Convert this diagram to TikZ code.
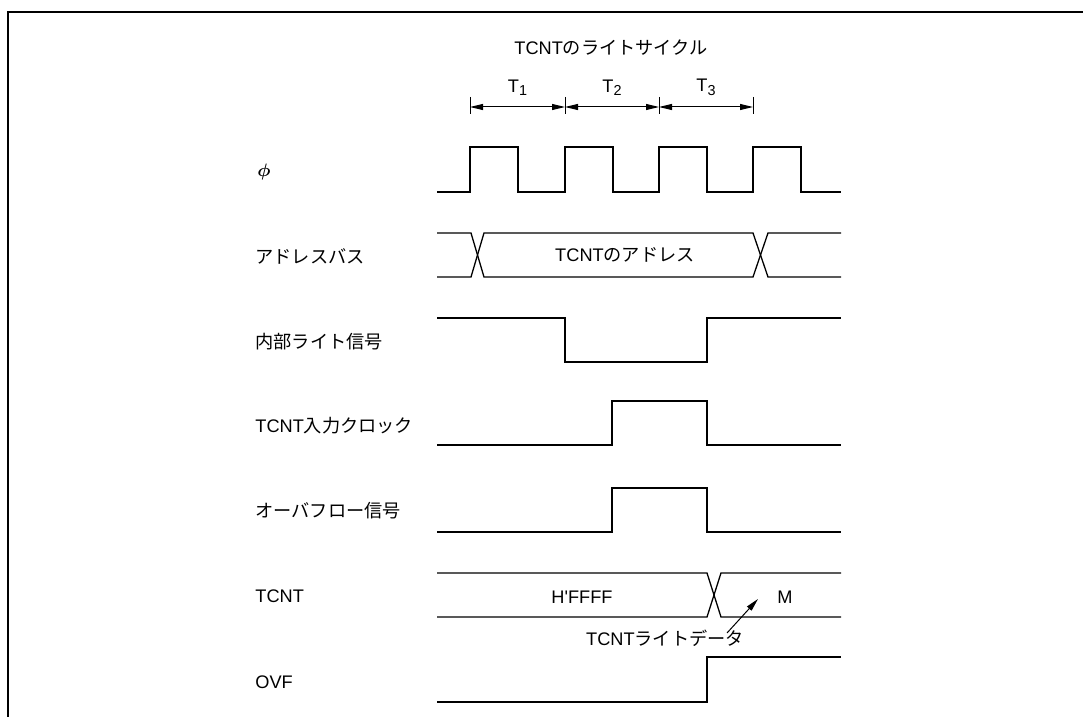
\documentclass[tikz,border=0pt]{standalone}
\usepackage{amsmath}
\usepackage{fontspec}
\setmainfont{Liberation Sans}
\newfontfamily\jp{Noto Sans CJK JP}
\usepackage{tikz}
\usetikzlibrary{arrows.meta, positioning}

\begin{document}
\begin{tikzpicture}[
				x=0.5pt, y=-0.5pt,
				every node/.style={font=\fontsize{9.1}{10}\selectfont, inner sep=0pt},
				siglabel/.style={anchor=west},
				wave/.style={line width=0.65pt, line join=miter},
				dimline/.style={line width=0.5pt,
				      {Triangle[length=6.5pt,width=3pt]}-{Triangle[length=6.5pt,width=3pt]}},
				frameline/.style={line width=1pt}
			]
				\useasboundingbox (0,0) rectangle (1083,717);
				\draw[frameline] (8,717) -- (8,12) -- (1083,12);
				% title and cycle markers
				\node (title) at (611,48) {TCNT{\jp のライトサイクル}};
				\coordinate (t0) at (470,107);
				\coordinate (t1) at (565,107);
				\coordinate (t2) at (659,107);
				\coordinate (t3) at (753,107);
				\foreach \x in {470,565,659,753}
				     \draw[line width=0.5pt] (\x,97) -- (\x,114);
				\draw[dimline] (t0) -- node[above=5.5pt] {T\raisebox{-0.35ex}{\fontsize{7.2}{8}\selectfont 1}} (t1);
				\draw[dimline] (t1) -- node[above=5.5pt] {T\raisebox{-0.35ex}{\fontsize{7.2}{8}\selectfont 2}} (t2);
				\draw[dimline] (t2) -- node[above=5.5pt] {T\raisebox{-0.35ex}{\fontsize{7.2}{8}\selectfont 3}} (t3);
				% signal names
				\node[siglabel] (lphi) at (257,172) {$\boldsymbol{\phi}$};
				\node[siglabel] (laddr) at (255,256) {\jp アドレスバス};
				\node[siglabel] (lwr) at (255,342) {\jp 内部ライト信号};
				\node[siglabel] (lclk) at (255,426) {TCNT{\jp 入力クロック}};
				\node[siglabel] (lovs) at (255,511) {\jp オーバフロー信号};
				\node[siglabel] (ltcnt) at (255,596) {TCNT};
				\node[siglabel] (lovf) at (255,682) {OVF};
				% waveforms
				\draw[wave] (437,192) foreach \r in {470,565,659,753}
				     { -- (\r,192) -- (\r,147) -- (\r+48,147) -- (\r+48,192) } -- (841,192);
				\draw[wave] (437,233) -- (471,233) -- (484,277) -- (753,277) -- (768,233) -- (841,233);
				\draw[wave] (437,277) -- (471,277) -- (484,233) -- (753,233) -- (768,277) -- (841,277);
				\node (addrval) at (625,255) {TCNT{\jp のアドレス}};
				\draw[wave] (437,318) -- (565,318) -- (565,362) -- (707,362) -- (707,318) -- (841,318);
				\draw[wave] (437,445) -- (612,445) -- (612,401) -- (707,401) -- (707,445) -- (841,445);
				\draw[wave] (437,532) -- (612,532) -- (612,488) -- (707,488) -- (707,532) -- (841,532);
				\draw[wave] (437,573) -- (707,573) -- (721,617) -- (841,617);
				\draw[wave] (437,617) -- (707,617) -- (721,573) -- (841,573);
				\node (cntold) at (582,597) {H\textquotesingle FFFF};
				\node (cntnew) at (785,597) {M};
				\draw[wave] (437,702) -- (707,702) -- (707,657) -- (841,657);
				% write data pointer
				\node (wdata) at (665,638) {TCNT{\jp ライトデータ}};
				\coordinate (wtail) at (727,633);
				\coordinate (whead) at (758,599);
				\draw[line width=0.5pt, -{Triangle[length=6.5pt,width=3pt]}] (wtail) -- (whead);
			\end{tikzpicture}
\end{document}
